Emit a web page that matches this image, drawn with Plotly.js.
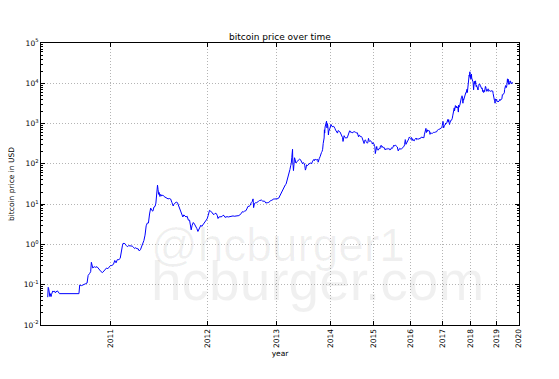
<!DOCTYPE html>
<html>
<head>
<meta charset="utf-8">
<script src="https://cdn.plot.ly/plotly-3.0.1.min.js"></script>
<style>html,body{margin:0;padding:0;background:#fff;}#chart{width:559px;height:379px;}</style>
</head>
<body>
<div id="chart"></div>
<script>
// ---- data: bitcoin price in USD (dates as month-day per year) ----
const d2010 = [
 '07-17','07-18','07-19','07-20','07-21','07-22','07-23','07-24','07-25','07-26','07-27','07-29','07-31',
 '08-02','08-04','08-06','08-08','08-10','08-12','08-14',
 '10-03','10-05','10-10','10-15','10-20','10-25','10-28',
 '11-01','11-04','11-06','11-08','11-10','11-14','11-18','11-22','11-26','11-30',
 '12-04','12-08','12-12','12-16','12-20','12-24','12-28'];
const p2010 = [
 0.049,0.086,0.081,0.07,0.062,0.051,0.06,0.054,0.051,0.058,0.062,0.07,0.066,
 0.07,0.063,0.067,0.07,0.069,0.064,0.06,
 0.06,0.098,0.095,0.102,0.105,0.11,0.17,
 0.19,0.21,0.36,0.30,0.26,0.28,0.27,0.28,0.25,0.23,
 0.21,0.20,0.22,0.24,0.26,0.25,0.27];

const d2011 = [
 '01-01','01-05','01-10','01-14','01-18','01-22','01-27','01-31',
 '02-04','02-07','02-09','02-12','02-15','02-19','02-23','02-27',
 '03-03','03-07','03-11','03-15','03-19','03-23','03-27','03-31',
 '04-04','04-08','04-12','04-16','04-20','04-24','04-28',
 '05-02','05-06','05-10','05-14','05-18','05-22','05-26','05-30',
 '06-02','06-05','06-08','06-10','06-12','06-14','06-17','06-20','06-24','06-28',
 '07-03','07-08','07-13','07-18','07-23','07-28',
 '08-02','08-07','08-10','08-14','08-19','08-24','08-29',
 '09-03','09-07','09-11','09-15','09-19','09-23','09-28',
 '10-03','10-08','10-13','10-18','10-20','10-24','10-29',
 '11-03','11-08','11-13','11-18','11-22','11-26',
 '12-01','12-05','12-10','12-15','12-20','12-25','12-29'];
const p2011 = [
 0.30,0.30,0.32,0.40,0.35,0.42,0.42,0.45,
 0.80,0.92,1.06,1.03,1.05,0.95,0.88,0.93,
 0.92,0.89,0.91,0.86,0.79,0.83,0.78,0.78,
 0.69,0.74,0.86,1.05,1.25,1.7,2.9,
 3.4,3.4,5.7,8.0,7.0,6.7,8.5,8.8,
 10.6,17.0,29.6,23.0,17.5,19.5,15.5,17.5,16.0,16.8,
 15.4,14.8,14.0,13.5,13.8,13.4,
 11.0,9.0,9.9,10.6,11.3,10.9,8.8,
 7.6,6.8,5.8,4.8,5.4,5.2,4.8,
 5.0,4.0,4.0,2.6,2.3,3.0,3.5,
 3.2,2.9,2.5,2.1,2.4,2.5,
 3.0,2.8,3.1,3.2,3.7,4.0,4.3];

const d2012 = [
 '01-03','01-06','01-09','01-12','01-16','01-20','01-25','01-30',
 '02-04','02-09','02-14','02-18','02-22','02-27',
 '03-03','03-08','03-13','03-18','03-23','03-28',
 '04-02','04-08','04-14','04-20','04-26',
 '05-02','05-08','05-14','05-20','05-26',
 '06-01','06-07','06-13','06-19','06-25',
 '07-01','07-07','07-13','07-19','07-25','07-31',
 '08-06','08-11','08-16','08-19','08-23','08-28',
 '09-03','09-09','09-15','09-21','09-27',
 '10-03','10-09','10-15','10-21','10-27',
 '11-02','11-08','11-14','11-20','11-26',
 '12-02','12-08','12-14','12-20','12-26'];
const p2012 = [
 5.2,6.0,7.0,6.8,6.6,6.3,5.7,5.5,
 5.9,5.9,5.3,4.4,4.8,4.9,
 4.8,4.9,5.3,5.2,4.7,4.8,
 4.9,4.8,4.9,5.1,5.1,
 5.1,5.0,5.0,5.1,5.1,
 5.2,5.5,5.8,6.5,6.4,
 6.7,6.8,7.6,8.8,8.8,9.3,
 10.9,11.5,13.5,8.2,10.2,10.8,
 10.8,11.0,11.7,12.3,12.4,
 12.6,11.9,11.7,11.8,10.7,
 10.6,10.9,11.1,11.9,12.3,
 12.5,13.3,13.5,13.4,13.4];

const d2013 = [
 '01-03','01-08','01-13','01-18','01-23','01-28',
 '02-02','02-07','02-12','02-17','02-22','02-27',
 '03-04','03-09','03-14','03-19','03-24','03-29',
 '04-02','04-05','04-08','04-10','04-12','04-14','04-16','04-19','04-23','04-27',
 '05-02','05-07','05-12','05-17','05-22','05-27',
 '06-01','06-06','06-11','06-16','06-21','06-26',
 '07-01','07-05','07-09','07-13','07-18','07-23','07-28',
 '08-02','08-07','08-12','08-17','08-22','08-27',
 '09-01','09-06','09-11','09-16','09-21','09-26',
 '10-01','10-03','10-07','10-12','10-17','10-22','10-27',
 '11-01','11-05','11-09','11-13','11-16','11-18','11-20','11-23','11-27','11-30',
 '12-04','12-07','12-10','12-13','12-16','12-18','12-21','12-25','12-29'];
const p2013 = [
 13.4,13.7,14.2,15.8,17.5,19.0,
 20.5,22.2,24.5,26.8,29.8,31.0,
 36,46,47,60,72,90,
 104,142,187,230,95,90,68,118,142,128,
 105,112,117,123,123,131,
 128,118,106,100,108,103,
 90,70,77,95,90,93,96,
 104,105,104,100,112,120,
 128,120,132,127,124,131,
 126,110,132,138,150,190,190,
 205,230,320,400,440,700,580,820,1000,1130,
 1150,780,1000,900,700,520,650,680,730];

const d2014 = [
 '01-03','01-07','01-12','01-17','01-22','01-27',
 '02-01','02-06','02-11','02-16','02-21','02-26',
 '03-03','03-08','03-13','03-18','03-23','03-28',
 '04-02','04-07','04-11','04-15','04-20','04-25','04-30',
 '05-05','05-10','05-15','05-20','05-25','05-30',
 '06-04','06-09','06-14','06-19','06-24','06-29',
 '07-04','07-09','07-14','07-19','07-24','07-29',
 '08-03','08-08','08-13','08-18','08-23','08-28',
 '09-02','09-07','09-12','09-17','09-22','09-27',
 '10-02','10-05','10-09','10-14','10-19','10-24','10-29',
 '11-03','11-08','11-13','11-18','11-23','11-28',
 '12-03','12-08','12-13','12-18','12-23','12-28'];
const p2014 = [
 800,950,860,820,830,860,
 830,760,690,640,600,580,
 670,630,640,620,565,490,
 450,450,360,500,500,465,445,
 430,450,445,490,570,620,
 660,650,600,610,585,600,
 630,625,625,630,600,575,
 585,590,540,470,515,510,
 475,480,475,450,405,400,
 375,320,355,395,385,355,335,
 325,345,430,385,360,375,
 375,360,345,310,335,320];

const d2015 = [
 '01-02','01-06','01-10','01-14','01-18','01-22','01-27',
 '02-01','02-06','02-11','02-16','02-21','02-26',
 '03-03','03-08','03-13','03-18','03-23','03-28',
 '04-02','04-07','04-12','04-17','04-22','04-27',
 '05-02','05-07','05-12','05-17','05-22','05-27',
 '06-01','06-06','06-11','06-16','06-21','06-26',
 '07-01','07-06','07-11','07-16','07-21','07-26','07-31',
 '08-05','08-10','08-15','08-19','08-24','08-29',
 '09-03','09-08','09-13','09-18','09-23','09-28',
 '10-03','10-08','10-13','10-18','10-23','10-28',
 '11-02','11-04','11-07','11-11','11-15','11-20','11-25',
 '12-01','12-06','12-10','12-15','12-20','12-25','12-30'];
const p2015 = [
 315,275,270,180,210,230,270,
 225,220,220,235,245,237,
 280,275,285,255,270,252,
 252,255,237,222,235,228,
 233,230,242,236,240,237,
 222,225,229,250,245,243,
 258,270,292,278,278,292,284,
 281,265,262,225,210,229,
 228,243,230,233,230,239,
 238,243,250,262,276,303,
 360,400,380,305,320,325,328,
 362,390,415,460,440,455,430];

const d2016 = [
 '01-04','01-09','01-15','01-20','01-25','01-30',
 '02-04','02-09','02-14','02-19','02-24','02-29',
 '03-05','03-10','03-15','03-20','03-25','03-30',
 '04-04','04-09','04-14','04-19','04-24','04-29',
 '05-04','05-09','05-14','05-19','05-24','05-29',
 '06-03','06-08','06-13','06-16','06-22','06-27',
 '07-02','07-07','07-12','07-17','07-22','07-27',
 '08-02','08-07','08-12','08-17','08-22','08-27',
 '09-01','09-06','09-11','09-16','09-21','09-26',
 '10-01','10-06','10-11','10-16','10-21','10-26','10-31',
 '11-05','11-10','11-15','11-20','11-25','11-30',
 '12-05','12-10','12-15','12-20','12-25','12-30'];
const p2016 = [
 432,450,380,420,390,378,
 390,375,405,420,420,438,
 400,415,416,410,416,413,
 420,420,424,435,460,455,
 447,460,456,438,445,525,
 570,580,700,760,600,645,
 700,640,670,680,660,655,
 540,590,585,575,585,575,
 572,610,605,607,596,603,
 612,613,640,640,632,678,700,
 705,715,712,730,740,745,
 765,775,780,800,890,960];

const d2017 = [
 '01-04','01-07','01-11','01-15','01-20','01-25','01-30',
 '02-04','02-09','02-14','02-19','02-24',
 '03-01','03-05','03-10','03-15','03-20','03-25','03-30',
 '04-04','04-09','04-14','04-19','04-24','04-29',
 '05-04','05-09','05-14','05-19','05-24','05-27','05-31',
 '06-04','06-08','06-12','06-16','06-21','06-26','06-30',
 '07-05','07-10','07-16','07-20','07-25','07-30',
 '08-04','08-09','08-14','08-19','08-24','08-29',
 '09-02','09-06','09-10','09-14','09-18','09-23','09-28',
 '10-03','10-08','10-13','10-18','10-23','10-28',
 '11-02','11-07','11-12','11-17','11-22','11-26','11-29',
 '12-03','12-07','12-10','12-13','12-17','12-22','12-26','12-30'];
const p2017 = [
 1130,900,780,820,895,895,920,
 1030,990,1010,1050,1170,
 1220,1270,1110,1245,1040,950,1040,
 1140,1190,1180,1210,1250,1350,
 1550,1700,1780,1980,2450,2050,2300,
 2500,2800,2650,2480,2700,2450,2500,
 2600,2400,1930,2870,2550,2750,
 2850,3350,4200,4100,4350,4600,
 4900,4600,4300,3200,4100,3800,4200,
 4300,4600,5600,5600,5900,5800,
 7100,7100,5900,7800,8100,9300,9900,
 11200,16000,15000,17000,19300,13900,15900,12700];

const d2018 = [
 '01-04','01-07','01-11','01-16','01-20','01-25','01-29',
 '02-02','02-06','02-10','02-15','02-20','02-25',
 '03-02','03-05','03-10','03-15','03-20','03-25','03-30',
 '04-04','04-09','04-14','04-19','04-24','04-29',
 '05-04','05-09','05-14','05-19','05-24','05-29',
 '06-03','06-08','06-13','06-18','06-23','06-28',
 '07-03','07-08','07-13','07-18','07-24','07-29',
 '08-03','08-08','08-13','08-18','08-23','08-28',
 '09-02','09-06','09-11','09-16','09-21','09-26',
 '10-01','10-06','10-11','10-16','10-21','10-26','10-31',
 '11-05','11-10','11-15','11-20','11-25','11-30',
 '12-05','12-10','12-15','12-20','12-24','12-28'];
const p2018 = [
 15000,17000,13500,11500,12800,11200,11200,
 8800,6900,8500,10000,11200,9600,
 11000,11500,9000,8200,8900,8400,6900,
 6800,6800,8000,8200,9600,9400,
 9700,9300,8700,8200,7500,7400,
 7700,7600,6300,6700,6100,5900,
 6600,6700,6200,7400,8400,8200,
 7400,6300,6300,6400,6500,7100,
 7300,6500,6300,6500,6700,6500,
 6600,6600,6300,6500,6500,6400,6300,
 6400,6400,5600,4500,3900,4000,
 3800,3500,3200,4100,4000,3800];

const d2019 = [
 '01-03','01-08','01-13','01-18','01-23','01-28',
 '02-02','02-07','02-12','02-17','02-22','02-27',
 '03-04','03-09','03-14','03-19','03-24','03-29',
 '04-02','04-07','04-12','04-17','04-22','04-27',
 '05-02','05-07','05-12','05-15','05-17','05-22','05-27',
 '06-01','06-06','06-11','06-16','06-21','06-26','06-28',
 '07-02','07-07','07-10','07-15','07-17','07-22','07-27',
 '08-01','08-06','08-11','08-16','08-21','08-26','08-31',
 '09-05','09-10','09-15','09-20'];
const p2019 = [
 3800,4000,3500,3600,3550,3450,
 3500,3400,3600,3650,3950,3800,
 3750,3950,3900,4050,3990,4100,
 4900,5200,5100,5250,5400,5200,
 5400,5800,7000,8200,7300,7900,8800,
 8600,7800,8000,8900,10200,12900,12400,
 10600,11400,12500,10200,9400,10300,9500,
 10400,11500,11400,10300,10100,10300,9600,
 10600,10100,10300,10200];

const yearLabels = ['2011','2012','2013','2014','2015','2016','2017','2018','2019','2020'];
const yTickText = ['10<sup>-2</sup>','10<sup>-1</sup>','10<sup>0</sup>','10<sup>1</sup>','10<sup>2</sup>','10<sup>3</sup>','10<sup>4</sup>','10<sup>5</sup>'];
const yTickVals = [1e-2,1e-1,1,10,100,1e3,1e4,1e5];

// ---- build series ----
const GENESIS = Date.UTC(2009,0,3);
function daysSince(s){const a=s.split('-').map(Number);return (Date.UTC(a[0],a[1]-1,a[2])-GENESIS)/86400000;}
const chunks = [[2010,d2010,p2010],[2011,d2011,p2011],[2012,d2012,p2012],[2013,d2013,p2013],[2014,d2014,p2014],
  [2015,d2015,p2015],[2016,d2016,p2016],[2017,d2017,p2017],[2018,d2018,p2018],[2019,d2019,p2019]];
const xs=[], ys=[];
chunks.forEach(([yr,ds,ps])=>{ds.forEach((md,i)=>{xs.push(daysSince(yr+'-'+md)); ys.push(ps[i]);});});

const xTickVals = yearLabels.map(y=>daysSince(y+'-01-01'));
const minorY=[]; for(let k=-2;k<5;k++){for(let m=2;m<10;m++){minorY.push(m*Math.pow(10,k));}}

const FONT = 'DejaVu Sans, sans-serif';
const trace = {x:xs,y:ys,type:'scatter',mode:'lines',line:{color:'#0000ff',width:1},hoverinfo:'skip'};

const axisCommon = {showline:true,linecolor:'#000',linewidth:1,mirror:'allticks',ticks:'inside',ticklen:4,tickwidth:1,tickcolor:'#000',
  showgrid:true,gridcolor:'#b4b4b4',griddash:'1px,2px',gridwidth:1,zeroline:false,automargin:false,tickfont:{family:FONT,size:7.5,color:'#000'}};

const layout = {
  width:559,height:379,
  margin:{l:41,r:40,t:43,b:54,pad:0},
  paper_bgcolor:'#fff',plot_bgcolor:'#fff',
  showlegend:false,
  title:{text:'bitcoin price over time',font:{family:FONT,size:9,color:'#000'},x:0.5,xref:'paper',xanchor:'center',y:1-37/379,yref:'container',yanchor:'middle'},
  xaxis:Object.assign({},axisCommon,{type:'log',range:[Math.log10(544.4),Math.log10(daysSince('2020-01-01'))],
    tickmode:'array',tickvals:xTickVals,ticktext:yearLabels,tickangle:-90,
    title:{text:'year',font:{family:FONT,size:7.5,color:'#000'},standoff:3}}),
  yaxis:Object.assign({},axisCommon,{type:'log',range:[-2,5],tickmode:'array',tickvals:yTickVals,ticktext:yTickText,
    minor:{tickmode:'array',tickvals:minorY,ticks:'inside',ticklen:2,tickcolor:'#000',showgrid:false},
    title:{text:'bitcoin price in USD',font:{family:FONT,size:7.5,color:'#000'},standoff:8}}),
  annotations:[
    {text:'@hcburger1',xref:'paper',yref:'paper',x:0.225,y:0.285,xanchor:'left',yanchor:'middle',showarrow:false,
     font:{family:'Liberation Sans, Arial, sans-serif',size:46,color:'rgba(0,0,0,0.06)'}},
    {text:'hcburger.com',xref:'paper',yref:'paper',x:0.225,y:0.155,xanchor:'left',yanchor:'middle',showarrow:false,
     font:{family:'Liberation Sans, Arial, sans-serif',size:55,color:'rgba(0,0,0,0.06)'}}
  ]
};
Plotly.newPlot('chart',[trace],layout,{staticPlot:true,displayModeBar:false});
</script>
</body>
</html>
